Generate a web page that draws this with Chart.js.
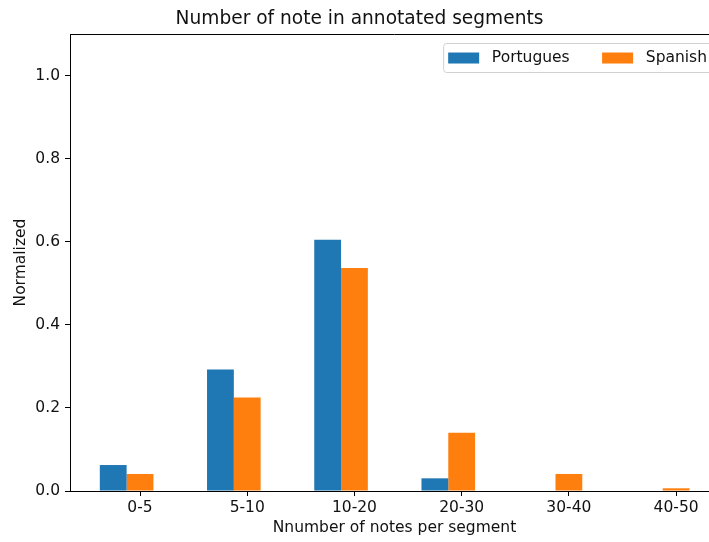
<!DOCTYPE html>
<html>
<head>
<meta charset="utf-8">
<script src="https://cdn.jsdelivr.net/npm/chart.js@4/dist/chart.umd.min.js"></script>
<style>
  html, body { margin: 0; padding: 0; overflow: hidden; background: #fff; width: 709px; height: 542px; }
  canvas { display: block; }
</style>
</head>
<body>
<canvas id="c" width="730" height="542"></canvas>
<script>
// Segment-length bins and normalized share of segments per corpus
const categories = ['0-5', '5-10', '10-20', '20-30', '30-40', '40-50'];
const portugues  = [0.0625, 0.2925, 0.605, 0.0305, 0, 0];
const spanish    = [0.041, 0.225, 0.537, 0.140, 0.041, 0.0065];
const yTicks     = [0, 0.2, 0.4, 0.6, 0.8, 1.0];

const FONT = '"DejaVu Sans", sans-serif';
const INK = '#111111';
// bars of a group sit left of / on the bin tick, like side-by-side offsets
const groupShift = -0.125;

const toPoints = vals => vals.map((v, i) => ({ x: i + groupShift, y: v }));

// boxed legend inside the upper-right corner of the plot
const framedLegend = {
  id: 'framedLegend',
  afterDraw(chart) {
    const { ctx, chartArea } = chart;
    const fs = 15.5;
    ctx.save();
    ctx.font = fs + 'px ' + FONT;
    const items = chart.data.datasets.map(d => ({
      label: d.label, color: d.backgroundColor, w: ctx.measureText(d.label).width
    }));
    const pad = 5, patchW = 31, patchH = 11, gap = 12.7, colGap = 32.4, h = 29;
    const total = pad * 2 + items.reduce((s, it) => s + patchW + gap + it.w, 0) + colGap * (items.length - 1);
    const right = chartArea.right - 7;
    const top = chartArea.top + 9;
    const left = right - total;
    ctx.beginPath();
    ctx.roundRect(left + 0.5, top + 0.5, total, h, 3);
    ctx.fillStyle = 'rgba(255,255,255,0.8)';
    ctx.fill();
    ctx.strokeStyle = '#d0d0d0';
    ctx.lineWidth = 1;
    ctx.stroke();
    let x = left + pad;
    const cy = top + h / 2 + 0.5;
    ctx.textBaseline = 'middle';
    ctx.textAlign = 'left';
    items.forEach(it => {
      ctx.fillStyle = it.color;
      ctx.fillRect(x, cy - patchH / 2, patchW, patchH);
      x += patchW + gap;
      ctx.fillStyle = INK;
      ctx.fillText(it.label, x, cy);
      x += it.w + colGap;
    });
    ctx.restore();
  }
};

// top and right frame lines
const frameSpines = {
  id: 'frameSpines',
  afterDatasetsDraw(chart) {
    const { ctx, chartArea: a } = chart;
    ctx.save();
    ctx.strokeStyle = '#000';
    ctx.lineWidth = 1;
    ctx.beginPath();
    ctx.moveTo(a.left, a.top + 0.5);
    ctx.lineTo(a.right, a.top + 0.5);
    ctx.moveTo(a.right - 0.5, a.top);
    ctx.lineTo(a.right - 0.5, a.bottom);
    ctx.stroke();
    ctx.restore();
  }
};

new Chart(document.getElementById('c'), {
  type: 'bar',
  data: {
    datasets: [
      { label: 'Portugues', data: toPoints(portugues), backgroundColor: '#1f77b4', borderWidth: 0 },
      { label: 'Spanish',   data: toPoints(spanish),   backgroundColor: '#ff7f0e', borderWidth: 0 }
    ]
  },
  options: {
    responsive: false,
    devicePixelRatio: 1,
    animation: false,
    categoryPercentage: 0.5,
    barPercentage: 1.0,
    layout: { padding: { left: 0, right: 11, top: 0, bottom: 0 } },
    plugins: {
      legend: { display: false },
      tooltip: { enabled: false },
      title: {
        display: true,
        text: 'Number of note in annotated segments',
        color: INK,
        font: { family: FONT, size: 18.6, weight: 'normal' },
        padding: { top: 8.5, bottom: 3.2 }
      }
    },
    scales: {
      x: {
        type: 'linear',
        min: -0.653,
        max: 5.4,
        offset: false,
        grid: { offset: false, drawOnChartArea: false, drawTicks: true, tickLength: 5, tickColor: '#000' },
        border: { color: '#000', width: 1 },
        afterBuildTicks(s) { s.ticks = categories.map((c, i) => ({ value: i })); },
        afterFit(s) { s.height = 51; },
        ticks: {
          color: INK,
          font: { family: FONT, size: 15.5 },
          padding: 3,
          maxRotation: 0,
          autoSkip: false,
          callback: v => categories[Math.round(v)]
        },
        title: {
          display: true,
          text: 'Nnumber of notes per segment',
          color: INK,
          font: { family: FONT, size: 15.5 },
          padding: { top: 0, bottom: 4.7 }
        }
      },
      y: {
        min: 0,
        max: 1.1,
        grid: { drawOnChartArea: false, drawTicks: true, tickLength: 5, tickColor: '#000' },
        border: { color: '#000', width: 1 },
        afterBuildTicks(s) { s.ticks = yTicks.map(v => ({ value: v })); },
        afterFit(s) { s.width = 70; },
        ticks: {
          color: INK,
          font: { family: FONT, size: 15.5 },
          padding: 5,
          callback: v => Number(v).toFixed(1)
        },
        title: {
          display: true,
          text: 'Normalized',
          color: INK,
          font: { family: FONT, size: 15.5 },
          padding: { top: 11.5, bottom: 0 }
        }
      }
    }
  },
  plugins: [framedLegend, frameSpines]
});
</script>
</body>
</html>
